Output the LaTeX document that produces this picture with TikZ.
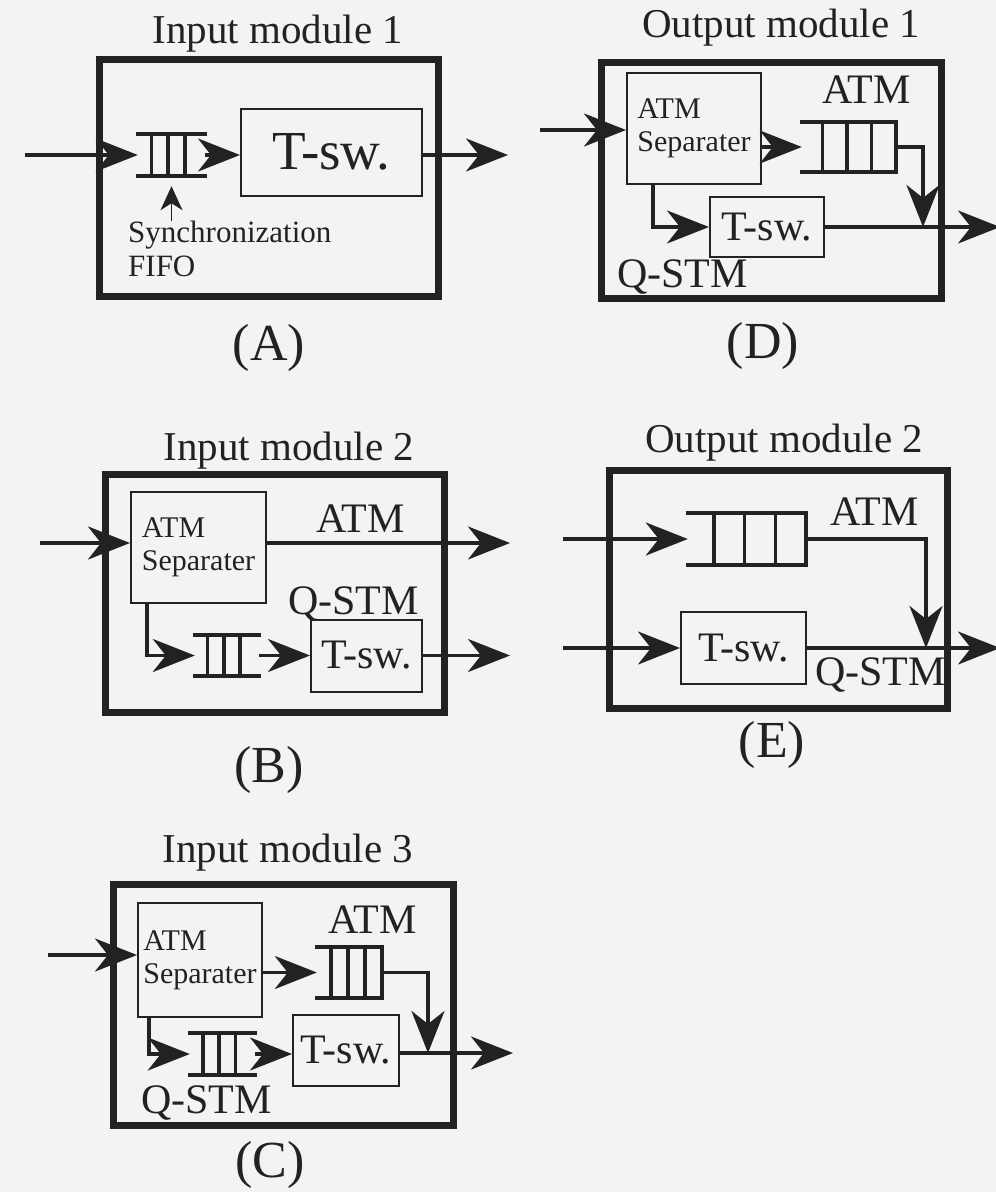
\documentclass[tikz,border=0pt]{standalone}
\usepackage{fontspec}
\setmainfont{Liberation Serif}
\usetikzlibrary{positioning, arrows.meta, calc}
\definecolor{ink}{HTML}{222222}
\definecolor{paper}{HTML}{F4F3F4}

\begin{document}
\begin{tikzpicture}[
    x=1pt, y=-1pt,
    >=Stealth,
    module/.style={draw=ink, line width=7pt, rectangle, inner sep=0pt},
    block/.style={draw=ink, line width=2pt, rectangle, inner sep=0pt, text=ink},
    tsw/.style={block, font=\fontsize{42}{46}\selectfont},
    sep/.style={block, align=left, font=\fontsize{30}{33}\selectfont},
    queue/.style={rectangle, inner sep=0pt, draw=none},
    bar/.style={draw=ink, line width=3.5pt, line cap=rect},
    title/.style={anchor=base, inner sep=0pt, text=ink, font=\fontsize{41}{44}\selectfont},
    tag/.style={anchor=base, inner sep=0pt, text=ink, font=\fontsize{52}{56}\selectfont},
    lbl/.style={anchor=base west, inner sep=0pt, text=ink, font=\fontsize{42}{46}\selectfont},
    arrow/.style={-{Stealth[length=42pt, width=33pt, inset=13pt]}, line width=3.5pt, draw=ink},
    thin arrow/.style={-{Stealth[length=24pt, width=22pt, inset=7pt]}, line width=1.2pt, draw=ink},
]

% page
\fill[paper] (0, 0) rectangle (996, 1192);
\useasboundingbox (0, 0) rectangle (996, 1192);

% ===== (A): Input module 1 =====
\node[title] (titleA) at (278, 43) {Input module 1};
\node[module, minimum width=339pt, minimum height=237pt] (modA) at (269, 178) {};
\node[queue, minimum width=67pt, minimum height=42pt] (fifoA) at (171.5, 155) {};
\node[block, font=\fontsize{55}{60}\selectfont,
      minimum width=181pt, minimum height=87pt] (tswA) at (331.5, 152) {T-sw.};
\node[anchor=north west, inner sep=0pt, align=left, text=ink,
      font=\fontsize{31}{34}\selectfont] (syncA) at (128, 221) {Synchronization\\FIFO};
\node[tag] (tagA) at (269, 360) {(A)};
\coordinate (inA) at (25, 155);
\coordinate (outA) at (508, 155);

% in -> FIFO -> T-sw. -> out
\draw[arrow] (inA) -- (fifoA.west);
\draw[arrow] (fifoA.east) -- (fifoA.east -| tswA.west);
\draw[arrow] (tswA.east |- outA) -- (outA);

% Synchronization FIFO pointer
\draw[thin arrow, shorten >=10pt] (fifoA.south |- syncA.north) -- (fifoA.south);

% ===== (D): Output module 1 =====
\node[title] (titleD) at (781, 37) {Output module 1};
\node[module, minimum width=340pt, minimum height=236pt] (modD) at (771.5, 180.5) {};
\node[sep, minimum width=134pt, minimum height=111pt] (sepD) at (694, 128.5) {ATM\\Separater};
\node[queue, minimum width=94pt, minimum height=50pt] (fifoD) at (849, 147) {};
\node[tsw, minimum width=114pt, minimum height=60pt] (tswD) at (767, 227) {T-sw.};
\node[lbl] (atmD) at (822, 103) {ATM};
\node[lbl] (qstmD) at (617, 287) {Q-STM};
\node[tag] (tagD) at (763, 358) {(D)};
\coordinate (inD) at (540, 130);
\coordinate (jD) at (923, 227);
\coordinate (outD) at (1000, 227);

% in -> separater, ATM queue merges into the Q-STM line
\draw[arrow] (inD) -- (inD -| sepD.west);
\draw[arrow] (sepD.east |- fifoD) -- (fifoD.west);
\draw[arrow] (fifoD.east) -| (jD);
\draw[arrow] ([xshift=-41pt]sepD.south) |- (tswD.west);
\draw[arrow] (tswD.east) -- (outD);

% ===== (B): Input module 2 =====
\node[title] (titleB) at (289, 460) {Input module 2};
\node[module, minimum width=339pt, minimum height=238pt] (modB) at (275, 593.5) {};
\node[sep, minimum width=135pt, minimum height=111pt] (sepB) at (198.5, 547.5) {ATM\\Separater};
\node[queue, minimum width=64pt, minimum height=41pt] (fifoB) at (227, 655.5) {};
\node[tsw, minimum width=111pt, minimum height=72pt] (tswB) at (366.5, 655.5) {T-sw.};
\node[lbl] (atmB) at (316, 532) {ATM};
\node[lbl] (qstmB) at (288, 614) {Q-STM};
\node[tag] (tagB) at (269, 782) {(B)};
\coordinate (inB) at (40, 543);
\coordinate (outB1) at (510, 543);
\coordinate (outB2) at (510, 655.5);

% ATM straight through, Q-STM via FIFO and T-sw.
\draw[arrow] (inB) -- (inB -| sepB.west);
\draw[arrow] (sepB.east |- outB1) -- (outB1);
\draw[arrow] ([xshift=-51.5pt]sepB.south) |- (fifoB.west);
\draw[arrow] (fifoB.east) -- (tswB.west);
\draw[arrow] (tswB.east) -- (outB2);

% ===== (E): Output module 2 =====
\node[title] (titleE) at (784, 452) {Output module 2};
\node[module, minimum width=338pt, minimum height=238pt] (modE) at (778.5, 589.5) {};
\node[queue, minimum width=118pt, minimum height=52pt] (fifoE) at (747, 539) {};
\node[tsw, minimum width=125pt, minimum height=72pt] (tswE) at (743.5, 648) {T-sw.};
\node[lbl] (atmE) at (830, 525) {ATM};
\node[lbl] (qstmE) at (815, 685) {Q-STM};
\node[tag] (tagE) at (772, 757) {(E)};
\coordinate (inE1) at (563, 539);
\coordinate (inE2) at (563, 648);
\coordinate (jE) at (926, 648);
\coordinate (outE) at (1000, 648);

\draw[arrow] (inE1) -- (fifoE.west);
\draw[arrow] (fifoE.east) -| (jE);
\draw[arrow] (inE2) -- (tswE.west);
\draw[arrow] (tswE.east) -- (outE);

% ===== (C): Input module 3 =====
\node[title] (titleC) at (288, 862) {Input module 3};
\node[module, minimum width=340pt, minimum height=241pt] (modC) at (283.5, 1005) {};
\node[sep, minimum width=124pt, minimum height=114pt] (sepC) at (200, 960) {ATM\\Separater};
\node[queue, minimum width=65pt, minimum height=51pt] (fifoCa) at (349.5, 972.5) {};
\node[queue, minimum width=65pt, minimum height=42pt] (fifoCb) at (222.5, 1054) {};
\node[tsw, minimum width=106pt, minimum height=71pt] (tswC) at (346, 1050) {T-sw.};
\node[lbl] (atmC) at (328, 933) {ATM};
\node[lbl] (qstmC) at (141, 1113) {Q-STM};
\node[tag] (tagC) at (270, 1177) {(C)};
\coordinate (inC) at (48, 955);
\coordinate (jC) at (428, 1053);
\coordinate (outC) at (513, 1053);

\draw[arrow] (inC) -- (inC -| sepC.west);
\draw[arrow] (sepC.east |- fifoCa) -- (fifoCa.west);
\draw[arrow] (fifoCa.east) -| (jC);
\draw[arrow] ([xshift=-51pt]sepC.south) |- (fifoCb.west);
\draw[arrow] (fifoCb.east) -- (fifoCb.east -| tswC.west);
\draw[arrow] (tswC.east |- outC) -- (outC);

% ===== Queue bars =====
% open queues (sync FIFO / Q-STM FIFO)
\foreach \q in {fifoA, fifoB, fifoCb} {
    \draw[bar] (\q.north west) -- (\q.north east) (\q.south west) -- (\q.south east);
    \foreach \f in {0.2, 0.45, 0.7}
        \draw[bar] ($(\q.north west)!\f!(\q.north east)$) -- ($(\q.south west)!\f!(\q.south east)$);
}
% ATM queues, closed at the output end
\foreach \q in {fifoD, fifoE, fifoCa} {
    \draw[bar] (\q.north west) -- (\q.north east) (\q.south west) -- (\q.south east);
    \foreach \f in {0.22, 0.48, 0.74, 1}
        \draw[bar] ($(\q.north west)!\f!(\q.north east)$) -- ($(\q.south west)!\f!(\q.south east)$);
}

\end{tikzpicture}
\end{document}
